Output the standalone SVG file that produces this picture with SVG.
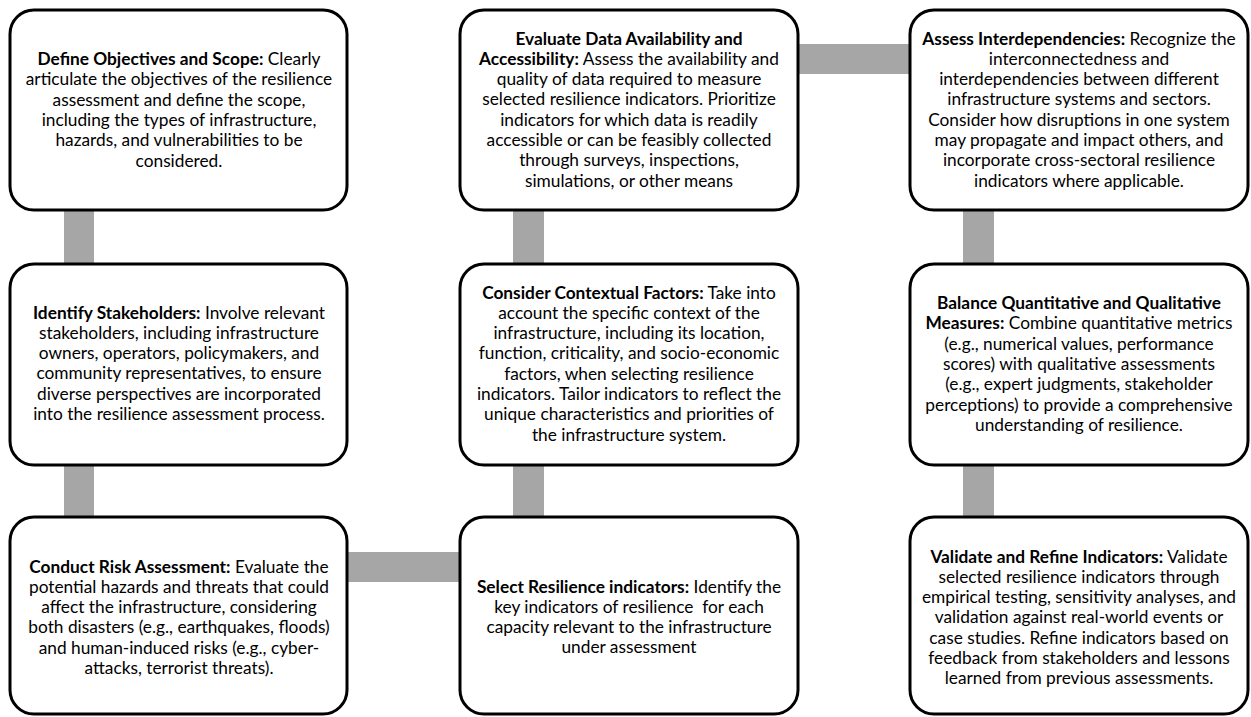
<svg xmlns="http://www.w3.org/2000/svg" width="1251" height="717" viewBox="0 0 1251 717">
<style>
.box{fill:#fff;stroke:#000;stroke-width:3}
.con{fill:#a6a6a6}
text{font-family:Lato,"Liberation Sans",sans-serif;font-size:17.3px;fill:#000;text-anchor:middle}
.b{font-weight:bold}
</style>
<rect width="1251" height="717" fill="#fff"/>
<g id="connectors">
<rect class="con" x="64" y="210" width="30" height="54"/>
<rect class="con" x="64" y="465" width="30" height="52"/>
<rect class="con" x="513" y="210" width="31" height="54"/>
<rect class="con" x="513" y="465" width="31" height="52"/>
<rect class="con" x="963" y="210" width="31" height="54"/>
<rect class="con" x="963" y="465" width="31" height="52"/>
<rect class="con" x="798" y="44" width="112" height="30"/>
<rect class="con" x="347" y="552" width="113" height="30"/>
</g>
<g id="n1">
<rect class="box" x="10" y="10" width="337" height="200" rx="24"/>
<text x="179" y="65"><tspan class="b">Define Objectives and Scope:</tspan> Clearly<tspan x="179" dy="20.3">articulate the objectives of the resilience</tspan><tspan x="179" dy="20.3">assessment and define the scope,</tspan><tspan x="179" dy="20.3">including the types of infrastructure,</tspan><tspan x="179" dy="20.3">hazards, and vulnerabilities to be</tspan><tspan x="179" dy="20.3">considered.</tspan></text>
</g>
<g id="n2">
<rect class="box" x="460" y="10" width="338" height="200" rx="24"/>
<text x="629" y="44.5"><tspan class="b">Evaluate Data Availability and</tspan><tspan x="629" dy="20.3"><tspan class="b">Accessibility:</tspan> Assess the availability and</tspan><tspan x="629" dy="20.3">quality of data required to measure</tspan><tspan x="629" dy="20.3">selected resilience indicators. Prioritize</tspan><tspan x="629" dy="20.3">indicators for which data is readily</tspan><tspan x="629" dy="20.3">accessible or can be feasibly collected</tspan><tspan x="629" dy="20.3">through surveys, inspections,</tspan><tspan x="629" dy="20.3">simulations, or other means</tspan></text>
</g>
<g id="n3">
<rect class="box" x="910" y="10" width="338" height="200" rx="24"/>
<text x="1079" y="44.5"><tspan class="b">Assess Interdependencies:</tspan> Recognize the<tspan x="1079" dy="20.3">interconnectedness and</tspan><tspan x="1079" dy="20.3">interdependencies between different</tspan><tspan x="1079" dy="20.3">infrastructure systems and sectors.</tspan><tspan x="1079" dy="20.3">Consider how disruptions in one system</tspan><tspan x="1079" dy="20.3">may propagate and impact others, and</tspan><tspan x="1079" dy="20.3">incorporate cross-sectoral resilience</tspan><tspan x="1079" dy="20.3">indicators where applicable.</tspan></text>
</g>
<g id="n4">
<rect class="box" x="10" y="264" width="337" height="201" rx="24"/>
<text x="179" y="318.5"><tspan class="b">Identify Stakeholders:</tspan> Involve relevant<tspan x="179" dy="20.3">stakeholders, including infrastructure</tspan><tspan x="179" dy="20.3">owners, operators, policymakers, and</tspan><tspan x="179" dy="20.3">community representatives, to ensure</tspan><tspan x="179" dy="20.3">diverse perspectives are incorporated</tspan><tspan x="179" dy="20.3">into the resilience assessment process.</tspan></text>
</g>
<g id="n5">
<rect class="box" x="460" y="264" width="338" height="201" rx="24"/>
<text x="629" y="298.5"><tspan class="b">Consider Contextual Factors:</tspan> Take into<tspan x="629" dy="20.3">account the specific context of the</tspan><tspan x="629" dy="20.3">infrastructure, including its location,</tspan><tspan x="629" dy="20.3">function, criticality, and socio-economic</tspan><tspan x="629" dy="20.3">factors, when selecting resilience</tspan><tspan x="629" dy="20.3">indicators. Tailor indicators to reflect the</tspan><tspan x="629" dy="20.3">unique characteristics and priorities of</tspan><tspan x="629" dy="20.3">the infrastructure system.</tspan></text>
</g>
<g id="n6">
<rect class="box" x="910" y="264" width="338" height="201" rx="24"/>
<text x="1079" y="309"><tspan class="b">Balance Quantitative and Qualitative</tspan><tspan x="1079" dy="20.3"><tspan class="b">Measures:</tspan> Combine quantitative metrics</tspan><tspan x="1079" dy="20.3">(e.g., numerical values, performance</tspan><tspan x="1079" dy="20.3">scores) with qualitative assessments</tspan><tspan x="1079" dy="20.3">(e.g., expert judgments, stakeholder</tspan><tspan x="1079" dy="20.3">perceptions) to provide a comprehensive</tspan><tspan x="1079" dy="20.3">understanding of resilience.</tspan></text>
</g>
<g id="n7">
<rect class="box" x="10" y="517" width="337" height="197" rx="24"/>
<text x="179" y="572.5"><tspan class="b">Conduct Risk Assessment:</tspan> Evaluate the<tspan x="179" dy="20.3">potential hazards and threats that could</tspan><tspan x="179" dy="20.3">affect the infrastructure, considering</tspan><tspan x="179" dy="20.3">both disasters (e.g., earthquakes, floods)</tspan><tspan x="179" dy="20.3">and human-induced risks (e.g., cyber-</tspan><tspan x="179" dy="20.3">attacks, terrorist threats).</tspan></text>
</g>
<g id="n8">
<rect class="box" x="460" y="517" width="338" height="197" rx="24"/>
<text x="629" y="592.5"><tspan class="b">Select Resilience indicators:</tspan> Identify the<tspan x="629" dy="20.3">key indicators of resilience&#160; for each</tspan><tspan x="629" dy="20.3">capacity relevant to the infrastructure</tspan><tspan x="629" dy="20.3">under assessment</tspan></text>
</g>
<g id="n9">
<rect class="box" x="910" y="517" width="338" height="197" rx="24"/>
<text x="1079" y="562.5"><tspan class="b">Validate and Refine Indicators:</tspan> Validate<tspan x="1079" dy="20.3">selected resilience indicators through</tspan><tspan x="1079" dy="20.3">empirical testing, sensitivity analyses, and</tspan><tspan x="1079" dy="20.3">validation against real-world events or</tspan><tspan x="1079" dy="20.3">case studies. Refine indicators based on</tspan><tspan x="1079" dy="20.3">feedback from stakeholders and lessons</tspan><tspan x="1079" dy="20.3">learned from previous assessments.</tspan></text>
</g>
</svg>
